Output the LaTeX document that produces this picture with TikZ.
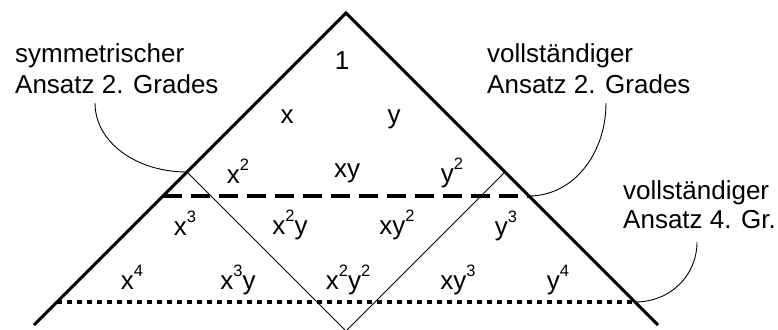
\documentclass[tikz,border=0pt]{standalone}
\usepackage{fontspec}
\setmainfont{Liberation Sans}
\newcommand\sups[1]{\raisebox{13pt}{\fontsize{16.5}{16.5}\selectfont #1}}
\begin{document}
\begin{tikzpicture}[x=1pt,y=-1pt,
  leg/.style={line width=3pt, line join=miter},
  thinline/.style={line width=0.9pt},
  dashline/.style={line width=3.5pt, dash pattern=on 19pt off 9pt},
  dotline/.style={line width=3.5pt, dash pattern=on 5pt off 5pt},
  callout/.style={line width=0.9pt},
  term/.style={inner sep=0pt, anchor=base, font=\fontsize{26}{30}\selectfont},
  lbl/.style={inner sep=0pt, anchor=base west, font=\fontsize{26}{30}\selectfont}]
\useasboundingbox (0,0) rectangle (778,329);
% frame coordinates
\coordinate (apex) at (346,13);
\coordinate (L) at (34,325);
\coordinate (R) at (658,325);
\coordinate (V) at (346,331);
\coordinate (tl) at (187,172);
\coordinate (tr) at (505,172);
\coordinate (dl) at (163,196);
\coordinate (dr) at (529,196);
\coordinate (pl) at (57,302);
\coordinate (pr) at (635,302);
% lines
\draw[dashline] (dl) -- (dr);
\draw[dotline] (pl) -- (pr);
\draw[thinline] (tl) -- (V) -- (tr);
\draw[leg] (L) -- (apex) -- (R);
% terms
\node[term] (t1) at (342,70) {1};
\node[term] (tx) at (287,123) {x};
\node[term] (ty) at (394,123) {y};
\node[term] (txx) at (238,183) {x\sups{2}};
\node[term] (txy) at (347,177) {xy};
\node[term] (tyy) at (452,182) {y\sups{2}};
\node[term] (tx3) at (185,235) {x\sups{3}};
\node[term] (tx2y) at (290,234) {x\sups{2}y};
\node[term] (txy2) at (397,234) {xy\sups{2}};
\node[term] (ty3) at (506,235) {y\sups{3}};
\node[term] (tx4) at (132,289) {x\sups{4}};
\node[term] (tx3y) at (238,289) {x\sups{3}y};
\node[term] (tx2y2) at (348,289) {x\sups{2}y\sups{2}};
\node[term] (txy3) at (458,289) {xy\sups{3}};
\node[term] (ty4) at (558,289) {y\sups{4}};
% labels
\node[lbl] (la1) at (15,63) {symmetrischer};
\node[lbl] (la2) at (15,93) {Ansatz 2. Grades};
\node[lbl] (lb1) at (487,63) {vollständiger};
\node[lbl] (lb2) at (487,93) {Ansatz 2. Grades};
\node[lbl] (lc1) at (623,199) {vollständiger};
\node[lbl] (lc2) at (623,228) {Ansatz 4. Gr.};
% callouts
\coordinate (ca) at (95,103);
\coordinate (cb) at (606,103);
\coordinate (cc) at (697,242);
\draw[callout] (ca) .. controls (95,142) and (136,172) .. (tl);
\draw[callout] (cb) .. controls (606,154) and (573,196) .. (dr);
\draw[callout] (cc) .. controls (697,275) and (671,302) .. (pr);
\end{tikzpicture}
\end{document}
